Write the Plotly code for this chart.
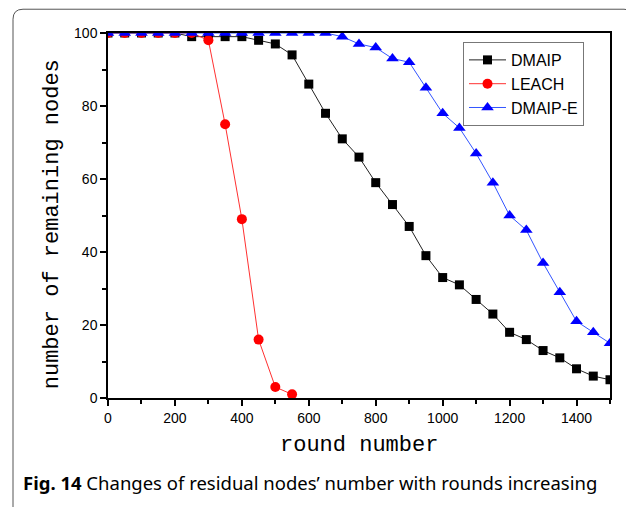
import plotly.graph_objects as go

rounds = list(range(0, 1501, 50))

dmaip = [100, 100, 100, 100, 100, 99, 99, 99, 99, 98, 97, 94, 86, 78, 71, 66,
         59, 53, 47, 39, 33, 31, 27, 23, 18, 16, 13, 11, 8, 6, 5]
leach_x = list(range(0, 551, 50))
leach = [100, 100, 100, 100, 100, 100, 98, 75, 49, 16, 3, 1]
dmaip_e = [100, 100, 100, 100, 100, 100, 100, 100, 100, 100, 100, 100, 100, 100,
           99, 97, 96, 93, 92, 85, 78, 74, 67, 59, 50, 46, 37, 29, 21, 18, 15]

x_ticks = [0, 200, 400, 600, 800, 1000, 1200, 1400]
y_ticks = [0, 20, 40, 60, 80, 100]

OFF = 8  # page body margin
W, H = 634 - OFF, 507 - OFF
L, R, T, B = 108 - OFF, 610 - OFF, 32.5 - OFF, 398 - OFF

fig = go.Figure()
fig.add_trace(go.Scatter(x=rounds, y=dmaip, name="DMAIP", mode="lines+markers",
                         line=dict(color="#222222", width=1),
                         marker=dict(symbol="square", size=9, color="black")))
fig.add_trace(go.Scatter(x=leach_x, y=leach, name="LEACH", mode="lines+markers",
                         line=dict(color="#ff3030", width=1),
                         marker=dict(symbol="circle", size=10, color="#ff0000")))
fig.add_trace(go.Scatter(x=rounds, y=dmaip_e, name="DMAIP-E", mode="lines+markers",
                         line=dict(color="#3355ff", width=1),
                         marker=dict(symbol="triangle-up", size=11, color="#0000ff")))

axis_font = dict(family="Liberation Sans, Arial", size=14, color="black")
fig.update_xaxes(range=[0, 1500], tickvals=x_ticks, showgrid=False, zeroline=False,
                 showline=True, linecolor="black", linewidth=1.5, mirror=True,
                 ticks="outside", ticklen=6, tickwidth=1.5, tickcolor="black",
                 minor=dict(dtick=100, ticks="outside", ticklen=4, tickwidth=1.5, tickcolor="black"),
                 tickfont=axis_font)
fig.update_yaxes(range=[0, 100], tickvals=y_ticks, showgrid=False, zeroline=False,
                 showline=True, linecolor="black", linewidth=1.5, mirror=True,
                 ticks="outside", ticklen=6, tickwidth=1.5, tickcolor="black",
                 minor=dict(dtick=10, ticks="outside", ticklen=4, tickwidth=1.5, tickcolor="black"),
                 tickfont=axis_font)

def px(xs):
    return (xs - OFF - L) / (R - L)

def py(ys):
    return (B - (ys - OFF)) / (B - T)

# rounded frame around figure (screen pixel coordinates)
x0, x1, y0, y1 = px(13), px(634), py(8.7), py(520)
rx, ry = 10 / (R - L), 10 / (B - T)
path = (f"M {x0+rx},{y0} L {x1-rx},{y0} Q {x1},{y0} {x1},{y0-ry} "
        f"L {x1},{y1+ry} Q {x1},{y1} {x1-rx},{y1} L {x0+rx},{y1} "
        f"Q {x0},{y1} {x0},{y1+ry} L {x0},{y0-ry} Q {x0},{y0} {x0+rx},{y0} Z")
fig.add_shape(type="path", path=path, xref="paper", yref="paper",
              line=dict(color="#555555", width=1))

fig.add_annotation(text="round number", xref="paper", yref="paper",
                   x=px(359), y=py(446), xanchor="center", yanchor="middle",
                   showarrow=False,
                   font=dict(family="Liberation Mono, Courier New", size=22, color="black"))
fig.add_annotation(text="number of remaining nodes", xref="paper", yref="paper",
                   x=px(52), y=py(224), xanchor="center", yanchor="middle",
                   showarrow=False, textangle=-90,
                   font=dict(family="Liberation Mono, Courier New", size=22, color="black"))
fig.add_annotation(text="<b>Fig. 14</b> Changes of residual nodes’ number with rounds increasing",
                   xref="paper", yref="paper", x=px(21), y=py(483),
                   xanchor="left", yanchor="middle", showarrow=False,
                   font=dict(family="Noto Sans, Open Sans", size=18.5, color="black"))

fig.update_layout(
    width=W, height=H,
    margin=dict(l=L, r=W - R, t=T, b=H - B),
    paper_bgcolor="white", plot_bgcolor="white",
    showlegend=True,
    legend=dict(x=px(463), y=py(41.5), xanchor="left", yanchor="top",
                bordercolor="#777777", borderwidth=1, bgcolor="white",
                font=dict(family="Liberation Sans, Arial", size=16, color="black"),
                itemwidth=37, tracegroupgap=0),
)

fig.write_html("out.html")
